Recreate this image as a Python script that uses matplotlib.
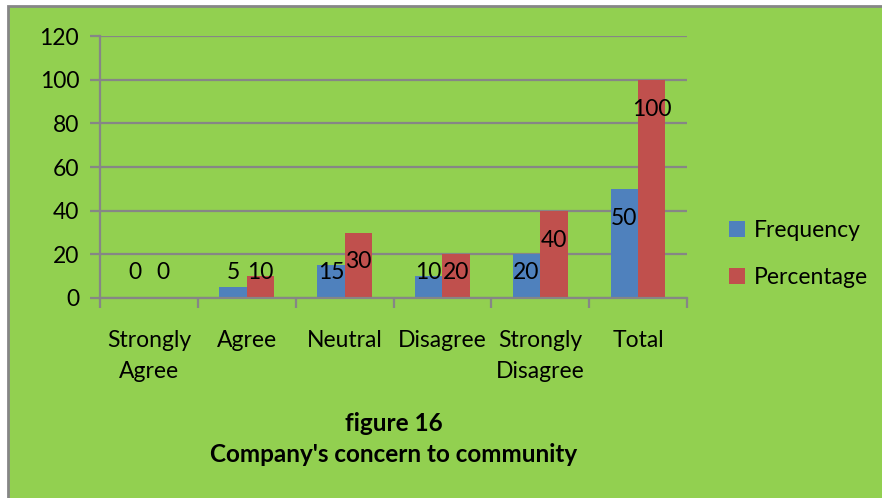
import matplotlib
matplotlib.use("Agg")
import matplotlib.pyplot as plt
from matplotlib.patches import Rectangle, Patch
import numpy as np

plt.rcParams['font.family'] = ['Lato', 'DejaVu Sans']

categories = ["Strongly\nAgree", "Agree", "Neutral", "Disagree", "Strongly\nDisagree", "Total"]
frequency = [0, 5, 15, 10, 20, 50]
percentage = [0, 10, 30, 20, 40, 100]

green = "#92D050"
blue = "#4F81BD"
red = "#C0504D"
grey = "#868686"
fs = 16.5

fig = plt.figure(figsize=(8.82, 4.98), dpi=100)
fig.patch.set_facecolor("white")
# chart area frame, cut off on the right and bottom
fig.patches.append(Rectangle((8 / 882, -0.05), 1.1, 1 - 6 / 498 + 0.05,
                             transform=fig.transFigure, facecolor=green,
                             edgecolor=grey, linewidth=2, zorder=-1))

ax = fig.add_axes([100 / 882, 200 / 498, 587 / 882, 262 / 498])
ax.set_facecolor(green)

x = np.arange(len(categories)) + 0.5
w = 0.28
ax.bar(x - w / 2, frequency, w, color=blue, zorder=2)
ax.bar(x + w / 2, percentage, w, color=red, zorder=2)

# value labels: inside near the top, kept above the baseline for short bars
for xs, vals in ((x - w / 2, frequency), (x + w / 2, percentage)):
    for xi, v in zip(xs, vals):
        ax.text(xi, max(v - 13.5, 11.5), str(v), ha="center", va="center",
                fontsize=fs, color="black", zorder=3)

ax.set_xlim(0, len(categories))
ax.set_ylim(0, 120)
ax.set_yticks(np.arange(0, 121, 20))
ax.yaxis.grid(True, color=grey, linewidth=1.6, zorder=1)
ax.set_axisbelow(True)

ax.set_xticks(x)
ax.set_xticklabels(categories, linespacing=1.6)
ax.set_xticks(np.arange(len(categories) + 1), minor=True)
ax.tick_params(axis="x", which="major", length=0, pad=23, labelsize=fs)
ax.tick_params(axis="x", which="minor", length=7, width=1.6, color=grey)
ax.tick_params(axis="y", length=7, width=1.6, color=grey, pad=8, labelsize=fs)

for s in ("top", "right"):
    ax.spines[s].set_visible(False)
for s in ("left", "bottom"):
    ax.spines[s].set_color(grey)
    ax.spines[s].set_linewidth(1.6)

handles = [Patch(facecolor=blue), Patch(facecolor=red)]
fig.legend(handles, ["Frequency", "Percentage"], loc="center left",
           bbox_to_anchor=(708 / 882, 1 - 254 / 498), frameon=False,
           fontsize=fs, handlelength=0.7, handleheight=0.7,
           handletextpad=0.4, labelspacing=1.15)

fig.text(394 / 882, 1 - 423 / 498, "figure 16", ha="center", va="center",
         fontsize=17.5, fontweight="bold")
fig.text(394 / 882, 1 - 454 / 498, "Company's concern to community", ha="center",
         va="center", fontsize=17.5, fontweight="bold")

fig.savefig("out.png", dpi=100, facecolor=fig.get_facecolor())
